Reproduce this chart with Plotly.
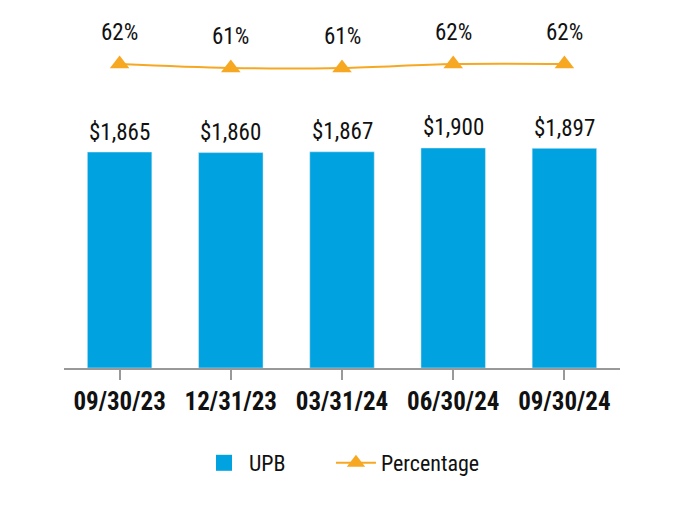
import plotly.graph_objects as go

categories = ["09/30/23", "12/31/23", "03/31/24", "06/30/24", "09/30/24"]
upb = [1865, 1860, 1867, 1900, 1897]
upb_labels = ["$1,865", "$1,860", "$1,867", "$1,900", "$1,897"]
pct = [62, 61, 61, 62, 62]
pct_labels = ["62%", "61%", "61%", "62%", "62%"]

FONT = "Liberation Sans Narrow, Arial Narrow, Roboto Condensed, Liberation Sans, sans-serif"
BAR = "#00A3E0"
LINE = "#F7A823"
NB = "\u00a0"

fig = go.Figure()
fig.add_trace(go.Bar(x=categories, y=upb, marker_color=BAR, width=0.58,
                     showlegend=False, name="UPB", hoverinfo="skip"))
# legend proxy for bar
fig.add_trace(go.Scatter(x=[None], y=[None], mode="markers", name="UPB" + NB * 8,
                         marker=dict(symbol="square", size=22, color=BAR)))
fig.add_trace(go.Scatter(x=categories, y=pct, yaxis="y2", mode="lines+markers",
                         name="Percentage", line=dict(color=LINE, width=2, shape="spline"),
                         marker=dict(symbol="triangle-up", size=17, color=LINE)))

annotations = []
for c, v, t in zip(categories, upb, upb_labels):
    annotations.append(dict(x=c, y=v, xref="x", yref="y", text=t, showarrow=False,
                            yshift=20, font=dict(size=23, color="#111", family=FONT)))
for c, v, t in zip(categories, pct, pct_labels):
    annotations.append(dict(x=c, y=v, xref="x", yref="y2", text=t, showarrow=False,
                            yshift=32, font=dict(size=23, color="#111", family=FONT)))

fig.update_layout(
    width=682, height=530,
    margin=dict(l=56, r=70, t=12, b=170, autoexpand=False),
    plot_bgcolor="white", paper_bgcolor="white",
    font=dict(family=FONT, color="#111"),
    xaxis=dict(showline=True, linecolor="#999", linewidth=2, ticks="outside",
               ticklen=10, tickcolor="#999", tickwidth=2, automargin=False,
               tickfont=dict(size=25, family=FONT, color="#111", weight="bold")),
    yaxis=dict(range=[0, 3005], visible=False, showgrid=False),
    yaxis2=dict(range=[-14, 73], overlaying="y", visible=False, showgrid=False),
    annotations=annotations,
    legend=dict(orientation="h", x=0.5, xanchor="center", y=-0.273, yanchor="middle",
                font=dict(size=22, family=FONT, color="#111"), itemwidth=40,
                traceorder="normal"),
)
fig.write_html("out.html")
